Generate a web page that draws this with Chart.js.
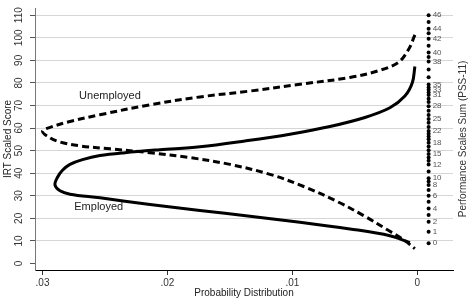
<!DOCTYPE html>
<html>
<head>
<meta charset="utf-8">
<script src="https://cdn.jsdelivr.net/npm/chart.js@4/dist/chart.umd.min.js"></script>
<style>
  html, body { margin: 0; padding: 0; background: #fff; }
  #wrap { width: 471px; height: 306px; }
</style>
</head>
<body>
<div id="wrap"><canvas id="c"></canvas></div>
<script>
// Unemployed (dashed) curve: IRT score and density
const unempIrt  = [101.3, 94.9, 89.2, 85.6, 82.4, 79.4, 76.4, 73.8, 70.3, 65.9, 62.9, 60.3, 58.6, 56.0, 53.8, 52.1, 50.8, 49.1, 46.9, 43.9, 39.5, 33.9, 27.4, 20.9, 14.9, 10.5, 6.6];
const unempDens = [0.0002, 0.0007, 0.0015, 0.003, 0.0054, 0.0094, 0.0134, 0.0174, 0.0214, 0.0254, 0.0278, 0.0294, 0.0300, 0.0295, 0.0286, 0.0270, 0.0246, 0.0214, 0.0182, 0.0150, 0.0118, 0.0090, 0.0064, 0.0042, 0.0024, 0.0011, 0.0002];

// Employed (solid) curve
const empIrt  = [87.3, 80.2, 74.2, 69.0, 64.7, 60.7, 57.3, 54.3, 51.7, 50.4, 49.1, 47.8, 46.0, 43.9, 41.3, 38.2, 34.8, 32.2, 30.7, 29.1, 26.1, 23.5, 20.9, 18.3, 15.3, 12.3, 9.2];
const empDens = [0.0002, 0.0004, 0.0010, 0.0022, 0.0042, 0.0070, 0.0102, 0.0138, 0.0174, 0.0206, 0.0234, 0.0254, 0.0268, 0.0278, 0.0284, 0.0288, 0.0290, 0.0286, 0.0278, 0.0254, 0.0214, 0.0174, 0.0134, 0.0094, 0.0054, 0.0022, 0.0006];

// PSS-11 sum scores and their IRT scaled score
const pssScore = [0, 1, 2, 3, 4, 5, 6, 7, 8, 9, 10, 11, 12, 13, 14, 15, 16, 17, 18, 19, 20, 21, 22, 23, 24, 25, 26, 27, 28, 29, 30, 31, 32, 33, 34, 35, 36, 37, 38, 39, 40, 41, 42, 43, 44, 45, 46];
const pssIrt   = [9, 14, 18.5, 21.5, 24.3, 27.3, 30, 32.5, 34.8, 36.3, 37.8, 40.8, 43.8, 45.5, 47, 48.5, 50.2, 51.8, 53.5, 55, 56.3, 57.5, 58.7, 60.5, 62.3, 64, 65.8, 67.7, 69.7, 71.5, 73, 74.6, 75.8, 77, 78, 79.3, 82.5, 86, 89.5, 91.5, 93.5, 96.5, 99.6, 102, 104, 107, 110];
const pssLabeled = [0, 1, 2, 4, 6, 8, 10, 12, 15, 18, 22, 25, 28, 31, 33, 35, 38, 40, 42, 44, 46];

const xTicks = [0, 0.01, 0.02, 0.03];
const yTicks = [0, 10, 20, 30, 40, 50, 60, 70, 80, 90, 100, 110];
const DOT_X = -0.0009;

const FONT = "'Liberation Sans', Arial, sans-serif";

const toPts = (xs, ys) => xs.map((x, i) => ({ x: x, y: ys[i] }));

// curve labels + dot labels + right title
const annot = {
  id: 'annot',
  afterDatasetsDraw(chart) {
    const { ctx, scales: { x, y }, chartArea } = chart;
    ctx.save();
    ctx.fillStyle = '#222';
    ctx.font = '11px ' + FONT;
    ctx.textAlign = 'center';
    ctx.textBaseline = 'middle';
    ctx.fillText('Unemployed', x.getPixelForValue(0.0246), y.getPixelForValue(74.2));
    ctx.fillText('Employed', x.getPixelForValue(0.0255), y.getPixelForValue(25.0));

    ctx.fillStyle = '#555';
    ctx.font = '8px ' + FONT;
    ctx.textAlign = 'left';
    pssLabeled.forEach(s => {
      const i = pssScore.indexOf(s);
      ctx.fillText(String(s), x.getPixelForValue(DOT_X) + 4, y.getPixelForValue(pssIrt[i]));
    });

    ctx.fillStyle = '#333';
    ctx.font = '10px ' + FONT;
    ctx.translate(chartArea.right + 10, (chartArea.top + chartArea.bottom) / 2);
    ctx.rotate(-Math.PI / 2);
    ctx.textAlign = 'center';
    ctx.fillText('Performance Scales Sum (PSS-11)', 0, 0);
    ctx.restore();
  }
};

new Chart(document.getElementById('c'), {
  type: 'scatter',
  data: {
    datasets: [
      {
        label: 'Unemployed',
        data: toPts(unempDens, unempIrt),
        showLine: true,
        borderColor: '#000',
        borderWidth: 3,
        borderDash: [7, 4],
        pointRadius: 0,
        tension: 0.35
      },
      {
        label: 'Employed',
        data: toPts(empDens, empIrt),
        showLine: true,
        borderColor: '#000',
        borderWidth: 3,
        pointRadius: 0,
        tension: 0.35
      },
      {
        label: 'PSS-11',
        data: pssIrt.map(v => ({ x: DOT_X, y: v })),
        showLine: false,
        pointRadius: 2,
        pointBackgroundColor: '#000',
        pointBorderWidth: 0
      }
    ]
  },
  options: {
    responsive: true,
    maintainAspectRatio: false,
    animation: false,
    layout: { padding: { top: 2, right: 18, left: 0, bottom: 0 } },
    plugins: { legend: { display: false }, tooltip: { enabled: false } },
    scales: {
      x: {
        type: 'linear',
        reverse: true,
        min: -0.00285,
        max: 0.0306,
        afterBuildTicks: ax => { ax.ticks = xTicks.map(v => ({ value: v })); },
        afterFit: ax => { ax.height = 36; },
        grid: { drawOnChartArea: false, tickLength: 5, tickColor: '#333' },
        border: { color: '#000', width: 1 },
        ticks: {
          padding: 2,
          color: '#333',
          font: { family: FONT, size: 10 },
          callback: v => v === 0 ? '0' : v.toFixed(2).replace('0.', '.')
        },
        title: {
          display: true,
          text: 'Probability Distribution',
          color: '#222',
          font: { family: FONT, size: 10 },
          padding: { top: 2, bottom: 7 }
        }
      },
      y: {
        type: 'linear',
        min: -2.9,
        max: 113.2,
        afterBuildTicks: ax => { ax.ticks = yTicks.map(v => ({ value: v })); },
        afterFit: ax => { ax.width = 35; },
        grid: {
          color: c => (c.tick && c.tick.value === 0) ? 'rgba(0,0,0,0)' : '#d6d6d6',
          lineWidth: 1,
          tickLength: 5,
          tickColor: '#555'
        },
        border: { color: '#777', width: 1 },
        ticks: {
          padding: 2,
          color: '#333',
          minRotation: 90,
          maxRotation: 90,
          crossAlign: 'center',
          font: { family: FONT, size: 10 }
        },
        title: {
          display: true,
          text: 'IRT Scaled Score',
          color: '#222',
          font: { family: FONT, size: 10 },
          padding: { top: 2, bottom: 2 }
        }
      }
    }
  },
  plugins: [annot]
});
</script>
</body>
</html>
